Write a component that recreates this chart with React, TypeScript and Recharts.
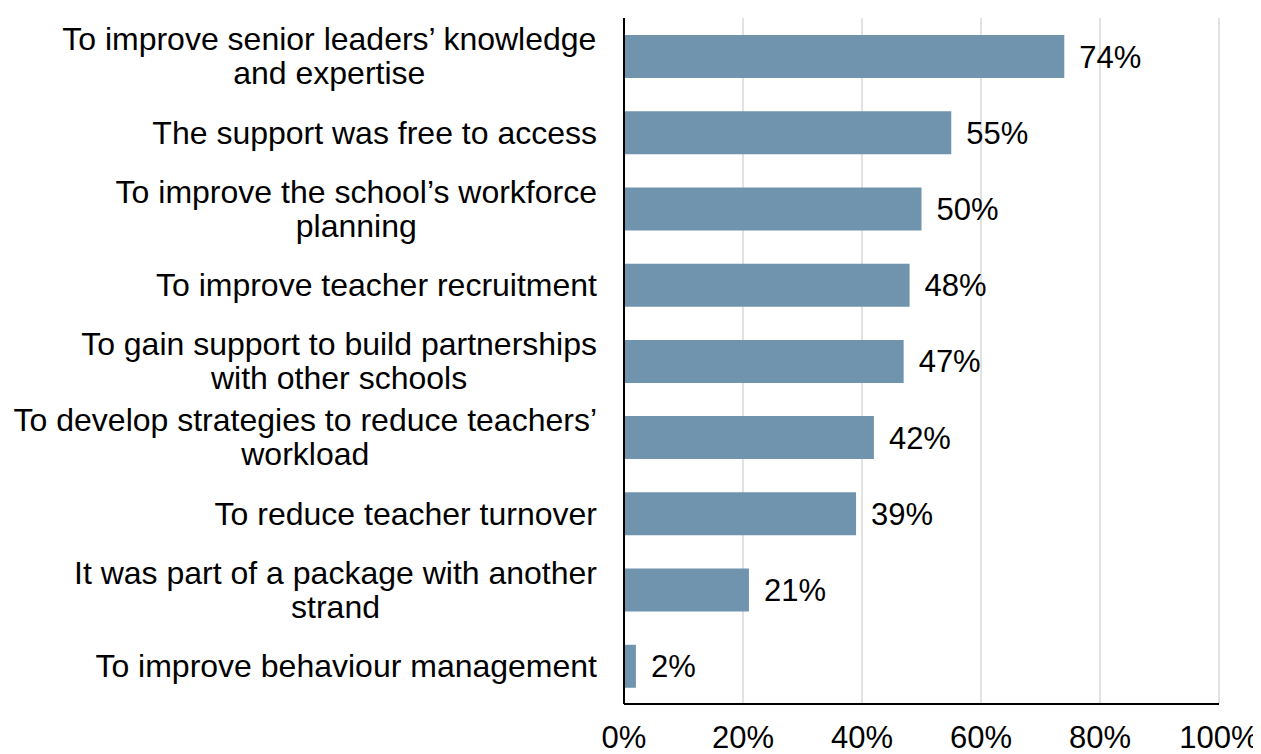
import React from 'react';
import { BarChart, Bar, XAxis, YAxis, CartesianGrid, LabelList } from 'recharts';

const categoryLines: string[][] = [
    ['To improve senior leaders’ knowledge', 'and expertise'],
    ['The support was free to access'],
    ['To improve the school’s workforce', 'planning'],
    ['To improve teacher recruitment'],
    ['To gain support to build partnerships', 'with other schools'],
    ['To develop strategies to reduce teachers’', 'workload'],
    ['To reduce teacher turnover'],
    ['It was part of a package with another', 'strand'],
    ['To improve behaviour management'],
];

const percentages: number[] = [74, 55, 50, 48, 47, 42, 39, 21, 2];

const xTicks: number[] = [0, 20, 40, 60, 80, 100];

const data = categoryLines.map((lines, i) => ({
    reason: lines.join(' '),
    value: percentages[i],
}));

const FONT = "'Liberation Sans', Arial, sans-serif";
const FONT_SIZE = 31;
const CAT_FONT_SIZE = 32;
const LINE_GAP = 34;
const BAR_COLOR = '#7094AD';

let measureCtx: CanvasRenderingContext2D | null = null;
function textWidth(s: string): number {
    if (!measureCtx) {
        const c = document.createElement('canvas');
        measureCtx = c.getContext('2d');
    }
    if (!measureCtx) return s.length * CAT_FONT_SIZE * 0.5;
    measureCtx.font = `${CAT_FONT_SIZE}px ${FONT}`;
    return measureCtx.measureText(s).width;
}

function ReasonTick(props: any) {
    const { x, y, index } = props;
    const lines = categoryLines[index] ?? [String(props.payload?.value ?? '')];
    const blockW = Math.max(...lines.map(textWidth));
    const cx = x - 27 - blockW / 2;
    const startY = y - ((lines.length - 1) * LINE_GAP) / 2;
    return (
        <g>
            {lines.map((line, i) => (
                <text
                    key={i}
                    x={cx}
                    y={startY + i * LINE_GAP}
                    dy="0.35em"
                    textAnchor="middle"
                    fontFamily={FONT}
                    fontSize={CAT_FONT_SIZE}
                    fill="#000"
                >
                    {line}
                </text>
            ))}
        </g>
    );
}

function PercentTick(props: any) {
    const { x, y, payload } = props;
    return (
        <text x={x} y={y} dy={44} textAnchor="middle" fontFamily={FONT} fontSize={FONT_SIZE} fill="#000">
            {`${payload.value}%`}
        </text>
    );
}

export default function App() {
    return (
        <div style={{ width: 1253, height: 746 }}>
            <BarChart
                width={1253}
                height={746}
                data={data}
                layout="vertical"
                margin={{ top: 10, right: 42, left: 0, bottom: 0 }}
                barSize={43}
            >
                <CartesianGrid horizontal={false} vertical stroke="#D9D9D9" strokeWidth={1.5} />
                <XAxis
                    type="number"
                    domain={[0, 100]}
                    ticks={xTicks}
                    interval={0}
                    height={50}
                    tickSize={0}
                    tickMargin={0}
                    tick={<PercentTick />}
                    axisLine={{ stroke: '#000', strokeWidth: 2 }}
                    tickLine={false}
                />
                <YAxis
                    type="category"
                    dataKey="reason"
                    width={616}
                    interval={0}
                    tickSize={0}
                    tickMargin={0}
                    tick={<ReasonTick />}
                    axisLine={{ stroke: '#000', strokeWidth: 2 }}
                    tickLine={false}
                />
                <Bar dataKey="value" fill={BAR_COLOR} isAnimationActive={false}>
                    <LabelList
                        dataKey="value"
                        position="right"
                        offset={15}
                        formatter={(v: any) => `${v}%`}
                        style={{ fontFamily: FONT, fontSize: FONT_SIZE, fill: '#000' }}
                    />
                </Bar>
            </BarChart>
        </div>
    );
}
